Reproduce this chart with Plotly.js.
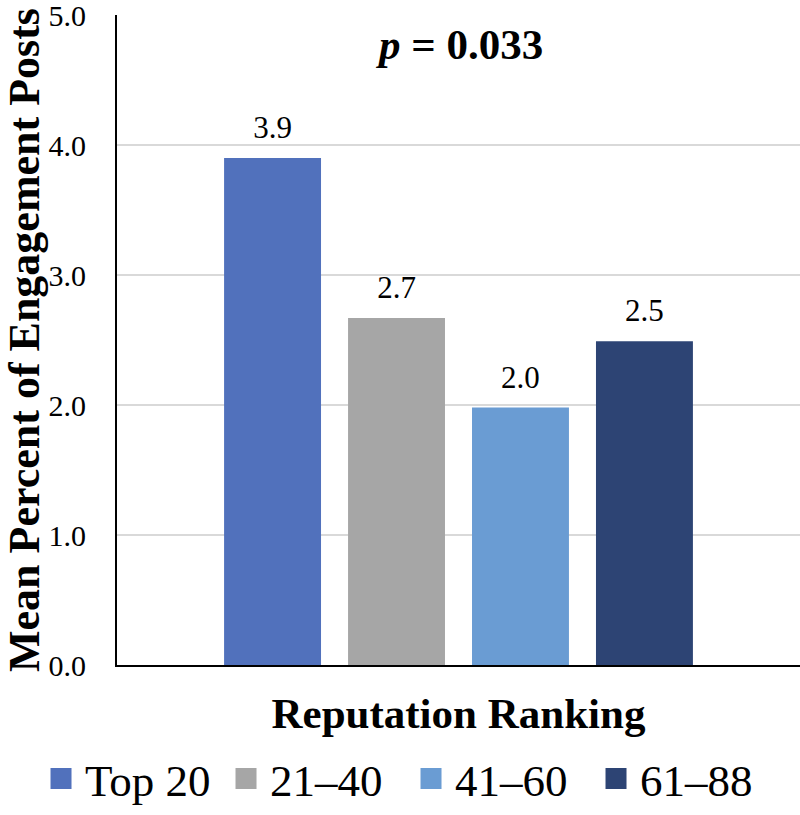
<!DOCTYPE html>
<html>
<head>
<meta charset="utf-8">
<script src="https://cdn.plot.ly/plotly-3.0.1.min.js"></script>
<style>
html,body{margin:0;padding:0;background:#fff;}
#chart{width:800px;height:815px;}
.legend .legendpoints path{transform:translate(16px,0px) scale(1.75);}
</style>
</head>
<body>
<div id="chart"></div>
<script>
const category = ['Reputation Ranking'];
const seriesNames = ['Top 20', '21–40', '41–60', '61–88'];
const seriesValues = [3.9, 2.67, 1.98, 2.49];
const seriesColors = ['#5171BC', '#A6A6A6', '#6A9CD3', '#2D4474'];
const yTicks = [0, 1, 2, 3, 4, 5];
const pText = '<i>p</i> = 0.033';

const serif = 'Liberation Serif';

const barTraces = seriesNames.map((name, i) => ({
  type: 'bar',
  name: name,
  x: category,
  y: [seriesValues[i]],
  marker: {color: seriesColors[i], line: {width: 0}},
  hoverinfo: 'none'
}));

const labelTraces = seriesNames.map((name, i) => ({
  type: 'scatter',
  mode: 'markers+text',
  name: name + ' label',
  showlegend: false,
  x: category,
  y: [seriesValues[i]],
  text: [seriesValues[i].toFixed(1)],
  textposition: 'top center',
  textfont: {family: serif, size: 31, color: '#000'},
  marker: {size: 18, opacity: 0},
  cliponaxis: false,
  hoverinfo: 'none'
}));

const layout = {
  width: 800, height: 815,
  margin: {l: 117, r: 0, t: 15, b: 148},
  paper_bgcolor: '#fff', plot_bgcolor: '#fff',
  barmode: 'group',
  bargap: 0.274,
  bargroupgap: 0.218,
  scattermode: 'group',
  scattergap: 0.274,
  font: {family: serif, color: '#000'},
  showlegend: true,
  legend: {
    orientation: 'h', x: -0.1054, xanchor: 'left', y: -0.175, yanchor: 'middle',
    font: {family: serif, size: 45, color: '#000'},
    traceorder: 'normal', entrywidth: 140, entrywidthmode: 'pixels'
  },
  xaxis: {
    showticklabels: false, ticks: '',
    showline: true, linecolor: '#000', linewidth: 2,
    showgrid: false, zeroline: false,
    title: {text: '<b>Reputation Ranking</b>', font: {family: serif, size: 43, color: '#000'}, standoff: 32}
  },
  yaxis: {
    range: [0, 5], tickvals: yTicks, tickformat: '.1f',
    showline: true, linecolor: '#000', linewidth: 2,
    showgrid: true, gridcolor: '#D9D9D9', gridwidth: 2,
    zeroline: false, ticks: '', ticklabelstandoff: 23, ticklabeloverflow: 'allow',
    tickfont: {family: serif, size: 30, color: '#000'},
    title: {text: '<b>Mean Percent of Engagement Posts</b>', font: {family: serif, size: 44, color: '#000'}, standoff: 20}
  },
  annotations: [{
    text: '<b>' + pText + '</b>', xref: 'paper', yref: 'paper',
    x: 0.5, y: (667 - 45) / 652, xanchor: 'center', yanchor: 'middle', showarrow: false,
    font: {family: serif, size: 43, color: '#000'}
  }]
};

Plotly.newPlot('chart', barTraces.concat(labelTraces), layout, {displayModeBar: false, staticPlot: true});
</script>
</body>
</html>
